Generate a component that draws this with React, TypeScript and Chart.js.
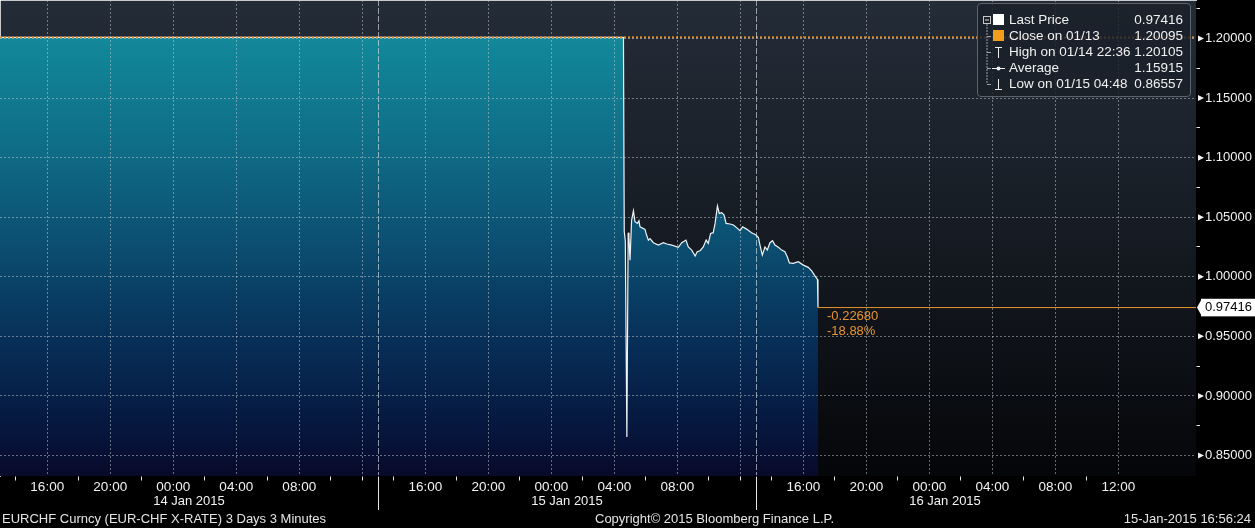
import React, { useEffect, useRef } from "react";
import { Chart, registerables } from "chart.js";

Chart.register(...registerables);

// ---------------- DATA ----------------
const sessionStart = "01/13 13:00";
const axisEnd = "01/16 16:56";
const dayBoundaries = ["01/14 13:00", "01/15 13:00"];
const dayCenters = ["01/14 01:00", "01/15 01:00", "01/16 01:00"];
const dayLabels = ["14 Jan 2015", "15 Jan 2015", "16 Jan 2015"];
const hourLabels = ["16:00", "20:00", "00:00", "04:00", "08:00", "12:00"];

const preTimes = ["01/13 13:00", "01/14 03:00", "01/14 22:36", "01/15 04:33"];
const preValues = [1.201, 1.201, 1.20105, 1.201];

const crashDay = "01/15";
const crashTimes = [
  "04:35", "04:38", "04:42", "04:48", "04:53", "04:56", "05:00", "05:06", "05:13", "05:19",
  "05:28", "05:34", "05:38", "05:57", "06:03", "06:10", "06:16", "06:29", "06:48", "07:07",
  "07:20", "07:39", "08:04", "08:17", "08:33", "08:42", "08:55", "09:08", "09:16", "09:27",
  "09:39", "09:50", "09:58", "10:07", "10:17", "10:24", "10:33", "10:40", "10:49", "10:58",
  "11:06", "11:21", "11:34", "11:49", "11:59", "12:09", "12:24", "12:43", "13:00", "13:09",
  "13:15", "13:24", "13:34", "13:43", "13:53", "14:03", "14:12", "14:25", "14:38", "14:50",
  "14:59", "15:07", "15:22", "15:41", "16:00", "16:19", "16:32", "16:45", "16:54", "16:56",
];
const crashValues = [
  1.201, 1.038, 1.03, 0.86557, 1.037, 1.033, 1.014, 1.0476, 1.0554, 1.0462,
  1.0448, 1.047, 1.042, 1.0398, 1.035, 1.0308, 1.032, 1.0286, 1.0266, 1.0286,
  1.0275, 1.0266, 1.0247, 1.0286, 1.0308, 1.025, 1.0224, 1.0174, 1.021, 1.0219,
  1.025, 1.0308, 1.028, 1.0364, 1.037, 1.0448, 1.0594, 1.0532, 1.0538, 1.052,
  1.0448, 1.0443, 1.0435, 1.0406, 1.0387, 1.042, 1.04, 1.037, 1.035, 1.033,
  1.0266, 1.0182, 1.025, 1.0225, 1.0286, 1.0303, 1.0266, 1.0247, 1.0224, 1.021,
  1.0168, 1.0117, 1.0112, 1.0126, 1.0098, 1.0079, 1.005, 1.0006, 0.9978, 0.97416,
];

const closePrice = 1.20095;
const lastPrice = 0.97416;
const changeLabels = ["-0.22680", "-18.88%"];

const yMinValue = 0.8328;
const yMaxValue = 1.2323;
const yMinorStep = 0.025;
const yMajorStep = 0.05;

const legendLabels = ["Last Price", "Close on 01/13", "High on 01/14 22:36", "Average", "Low on 01/15 04:48"];
const legendValues = ["0.97416", "1.20095", "1.20105", "1.15915", "0.86557"];

const footerLeft = "EURCHF Curncy (EUR-CHF X-RATE) 3 Days 3 Minutes";
const footerCenter = "Copyright\u00A9 2015 Bloomberg Finance L.P.";
const footerRight = "15-Jan-2015 16:56:24";

// ---------------- HELPERS ----------------
const FONT = '"Liberation Sans", Arial, sans-serif';
const startParts = sessionStart.split(" ");
const startDay = Number(startParts[0].split("/")[1]);
const startHour = Number(startParts[1].split(":")[0]);

function toHours(s: string): number {
  const [md, hm] = s.split(" ");
  const d = Number(md.split("/")[1]);
  const [h, m] = hm.split(":").map(Number);
  return (d - startDay) * 24 + h + m / 60 - startHour;
}

const xMax = toHours(axisEnd);
const lastTimeH = toHours(crashDay + " " + crashTimes[crashTimes.length - 1]);

const pricePoints = [
  ...preTimes.map((t, i) => ({ x: toHours(t), y: preValues[i] })),
  ...crashTimes.map((t, i) => ({ x: toHours(crashDay + " " + t), y: crashValues[i] })),
];

type XTick = { value: number; kind: string; label: string };
const boundaryHours = dayBoundaries.map(toHours);
const xTicks: XTick[] = [];
for (let k = 1; k < 72; k += 2) {
  const clock = (startHour + k) % 24;
  const text = String(clock).padStart(2, "0") + ":00";
  if (clock % 4 === 0) {
    const near = boundaryHours.some((b) => b - k > 0 && b - k < 1.5);
    xTicks.push({ value: k, kind: near ? "gridTick" : "major", label: near ? "" : hourLabels.includes(text) ? text : "" });
  } else {
    xTicks.push({ value: k, kind: "minor", label: "" });
  }
}
boundaryHours.forEach((b) => xTicks.push({ value: b, kind: "sep", label: "" }));
xTicks.sort((a, b) => a.value - b.value);
const xKind = (v: number) => xTicks.find((t) => Math.abs(t.value - v) < 1e-6)?.kind ?? "";
const xLabel = (v: number) => xTicks.find((t) => Math.abs(t.value - v) < 1e-6)?.label ?? "";

type DTick = { value: number; label: string; sep: boolean };
const dayTicks: DTick[] = [
  ...dayCenters.map((c, i) => ({ value: Math.round(toHours(c) / 12) * 12, label: dayLabels[i], sep: false })),
  ...boundaryHours.map((b) => ({ value: b, label: "", sep: true })),
].sort((a, b) => a.value - b.value);

const yTickValues: number[] = [];
for (let k = Math.ceil(yMinValue / yMinorStep); k * yMinorStep <= yMaxValue + 1e-9; k++) {
  const v = Math.round(k * yMinorStep * 1e6) / 1e6;
  if (Math.abs(v - lastPrice) < 0.004) continue;
  yTickValues.push(v);
}
yTickValues.push(lastPrice);
yTickValues.sort((a, b) => a - b);
const isLast = (v: any) => typeof v === "number" && Math.abs(v - lastPrice) < 1e-9;
const isMajorY = (v: any) =>
  typeof v === "number" && !isLast(v) && Math.abs(v / yMajorStep - Math.round(v / yMajorStep)) < 1e-6;

const GRID = "rgba(200,206,214,0.5)";
const SEP = "rgba(225,230,236,0.62)";
const ORANGE = "#e8952f";
const CLEAR = "rgba(0,0,0,0)";

// ---------------- PLUGINS ----------------
const plotBackground = {
  id: "plotBackground",
  beforeDraw(chart: any) {
    const { ctx, chartArea: a } = chart;
    ctx.save();
    ctx.fillStyle = "#000";
    ctx.fillRect(0, 0, chart.width, chart.height);
    const g = ctx.createLinearGradient(0, a.top, 0, a.bottom);
    g.addColorStop(0, "rgb(36,44,56)");
    g.addColorStop(0.45, "rgb(23,29,37)");
    g.addColorStop(1, "rgb(5,6,9)");
    ctx.fillStyle = g;
    ctx.fillRect(a.left, a.top, a.right - a.left, a.bottom - a.top);
    ctx.restore();
  },
};

const axisMarkers = {
  id: "axisMarkers",
  afterDraw(chart: any) {
    const { ctx } = chart;
    const ys = chart.scales.y;
    const xs = chart.scales.x;
    const r = ys.left;
    ctx.save();
    ctx.fillStyle = "#f2f2f2";
    ys.ticks.forEach((t: any) => {
      if (!isMajorY(t.value)) return;
      const py = ys.getPixelForValue(t.value);
      ctx.beginPath();
      ctx.moveTo(r + 2, py - 3);
      ctx.lineTo(r + 8, py);
      ctx.lineTo(r + 2, py + 3);
      ctx.closePath();
      ctx.fill();
    });
    const py = ys.getPixelForValue(lastPrice);
    ctx.fillStyle = "#ffffff";
    ctx.beginPath();
    ctx.moveTo(r + 1, py);
    ctx.lineTo(r + 6, py - 9);
    ctx.lineTo(r + 6, py + 9);
    ctx.closePath();
    ctx.fill();
    const lx = xs.getPixelForValue(lastTimeH);
    ctx.fillStyle = ORANGE;
    ctx.font = "13px " + FONT;
    ctx.textAlign = "left";
    ctx.textBaseline = "middle";
    ctx.fillText(changeLabels[0], lx + 9, py + 9);
    ctx.fillText(changeLabels[1], lx + 9, py + 24);
    ctx.restore();
  },
};

// ---------------- COMPONENTS ----------------
function Legend() {
  const rows = [17, 33, 49, 65, 81];
  return (
    <div
      style={{
        position: "absolute",
        left: 977,
        top: 3,
        width: 214,
        height: 94,
        background: "rgba(26,32,41,0.84)",
        border: "1px solid #5d636b",
        borderRadius: 4,
        boxSizing: "border-box",
        fontFamily: FONT,
        fontSize: 13.5,
        color: "#f0f0f0",
      }}
    >
      <svg width={32} height={94} style={{ position: "absolute", left: -1, top: -1 }}>
        <rect x={6.5} y={13.5} width={7} height={7} fill="none" stroke="#c8c8c8" strokeWidth={1} />
        <line x1={8} y1={17} x2={12} y2={17} stroke="#e0e0e0" strokeWidth={1} />
        <line x1={10} y1={21} x2={10} y2={81} stroke="#9aa0a8" strokeWidth={1} strokeDasharray="2,1" />
        {rows.slice(1).map((r) => (
          <line key={r} x1={10} y1={r + 0.5} x2={14} y2={r + 0.5} stroke="#9aa0a8" strokeWidth={1} />
        ))}
        <rect x={16} y={11} width={11} height={11} fill="#ffffff" />
        <rect x={16} y={27} width={11} height={11} fill="#f29d1c" />
        <line x1={18} y1={44.5} x2={25} y2={44.5} stroke="#eee" strokeWidth={1} />
        <line x1={21.5} y1={44} x2={21.5} y2={55} stroke="#eee" strokeWidth={1} />
        <line x1={15} y1={65.5} x2={28} y2={65.5} stroke="#eee" strokeWidth={1} />
        <circle cx={21.5} cy={65.5} r={2} fill="#eee" />
        <line x1={21.5} y1={76} x2={21.5} y2={86} stroke="#eee" strokeWidth={1} />
        <line x1={18} y1={86.5} x2={25} y2={86.5} stroke="#eee" strokeWidth={1} />
      </svg>
      {legendLabels.map((l, i) => (
        <div
          key={l}
          style={{
            position: "absolute",
            left: 31,
            right: 7,
            top: rows[i] - 9,
            height: 16,
            lineHeight: "16px",
            display: "flex",
            justifyContent: "space-between",
            whiteSpace: "nowrap",
          }}
        >
          <span>{l}</span>
          <span>{legendValues[i]}</span>
        </div>
      ))}
    </div>
  );
}

export default function App() {
  const ref = useRef<HTMLCanvasElement>(null);

  useEffect(() => {
    if (!ref.current) return;
    const chart = new Chart(ref.current, {
      type: "line",
      data: {
        datasets: [
          {
            label: "Close",
            data: [
              { x: toHours(sessionStart), y: closePrice },
              { x: xMax, y: closePrice },
            ],
            borderColor: "#e08a26",
            borderWidth: 2,
            borderDash: [2, 2],
            pointRadius: 0,
            fill: false,
            order: 0,
          },
          {
            label: "Last",
            data: [
              { x: lastTimeH, y: lastPrice },
              { x: xMax, y: lastPrice },
            ],
            borderColor: ORANGE,
            borderWidth: 1,
            pointRadius: 0,
            fill: false,
            order: 1,
          },
          {
            label: "EURCHF",
            data: pricePoints,
            borderColor: "#eef3f6",
            borderWidth: 1.2,
            pointRadius: 0,
            tension: 0,
            fill: "start",
            order: 2,
            backgroundColor: (c: any) => {
              const a = c.chart.chartArea;
              if (!a) return CLEAR;
              const g = c.chart.ctx.createLinearGradient(0, a.top, 0, a.bottom);
              g.addColorStop(0, "rgb(19,146,160)");
              g.addColorStop(0.3, "rgb(15,110,136)");
              g.addColorStop(0.52, "rgb(11,77,112)");
              g.addColorStop(0.73, "rgb(7,45,86)");
              g.addColorStop(0.92, "rgb(6,20,58)");
              g.addColorStop(1, "rgb(9,10,42)");
              return g;
            },
          },
        ],
      },
      options: {
        animation: false,
        responsive: false,
        devicePixelRatio: 1,
        events: [],
        layout: { padding: { left: 0, right: 0, top: 0, bottom: 16 } },
        plugins: { legend: { display: false }, tooltip: { enabled: false } },
        scales: {
          x: {
            type: "linear",
            position: "bottom",
            weight: 0,
            min: 0,
            max: xMax,
            bounds: "data",
            afterBuildTicks: (s: any) => {
              s.ticks = xTicks.map((t) => ({ value: t.value }));
            },
            afterFit: (s: any) => {
              s.height = 18;
              s.paddingLeft = 0;
              s.paddingRight = 0;
            },
            grid: {
              z: 1,
              lineWidth: 1,
              color: (c: any) => {
                const k = c.tick ? xKind(c.tick.value) : "";
                return k === "sep" ? SEP : k === "major" || k === "gridTick" ? GRID : CLEAR;
              },
              drawTicks: true,
              tickLength: 18,
              tickWidth: 1,
              tickColor: (c: any) => {
                const k = c.tick ? xKind(c.tick.value) : "";
                return k === "sep" || k === "minor" || k === "gridTick" ? "#e6e6e6" : CLEAR;
              },
              tickBorderDash: (c: any) => {
                const k = c.tick ? xKind(c.tick.value) : "";
                return k === "sep" ? [] : [4, 60];
              },
            },
            border: {
              display: true,
              color: "#ffffff",
              width: 1.5,
              dash: (c: any) => {
                if (!c || c.type !== "tick") return [];
                return xKind(c.tick.value) === "sep" ? [6, 2] : [2, 2];
              },
            },
            ticks: {
              autoSkip: false,
              maxRotation: 0,
              minRotation: 0,
              padding: -15,
              color: "#f2f2f2",
              font: { family: FONT, size: 13.5 },
              callback: (v: any) => xLabel(Number(v)),
            },
          },
          x2: {
            type: "linear",
            axis: "x",
            position: "bottom",
            weight: 1,
            min: 0,
            max: xMax,
            bounds: "data",
            afterBuildTicks: (s: any) => {
              s.ticks = dayTicks.map((t) => ({ value: t.value }));
            },
            afterFit: (s: any) => {
              s.height = 18;
              s.paddingLeft = 0;
              s.paddingRight = 0;
            },
            grid: {
              drawOnChartArea: false,
              drawTicks: true,
              tickLength: 16,
              tickWidth: 1,
              tickColor: (c: any) => {
                const t = c.tick ? dayTicks.find((d) => Math.abs(d.value - c.tick.value) < 1e-6) : null;
                return t && t.sep ? "#e6e6e6" : CLEAR;
              },
            },
            border: { display: false },
            ticks: {
              autoSkip: false,
              maxRotation: 0,
              minRotation: 0,
              padding: -16,
              color: "#f2f2f2",
              font: { family: FONT, size: 13 },
              callback: (v: any) => {
                const t = dayTicks.find((d) => Math.abs(d.value - Number(v)) < 1e-6);
                return t ? t.label : "";
              },
            },
          },
          y: {
            type: "linear",
            position: "right",
            min: yMinValue,
            max: yMaxValue,
            bounds: "data",
            afterBuildTicks: (s: any) => {
              s.ticks = yTickValues.map((v) => ({ value: v }));
            },
            afterFit: (s: any) => {
              s.width = 59;
              s.paddingTop = 0;
              s.paddingBottom = 0;
            },
            grid: {
              z: 1,
              lineWidth: 1,
              color: (c: any) => (c.tick && isMajorY(c.tick.value) ? GRID : CLEAR),
              drawTicks: true,
              tickLength: 4,
              tickWidth: 1,
              tickColor: (c: any) =>
                c.tick && !isMajorY(c.tick.value) && !isLast(c.tick.value) ? "#e6e6e6" : CLEAR,
            },
            border: {
              display: true,
              color: "#ffffff",
              width: 1.5,
              dash: (c: any) => (c && c.type === "tick" ? [2, 2] : []),
            },
            ticks: {
              autoSkip: false,
              padding: 5,
              font: { family: FONT, size: 13 },
              color: (c: any) => (c.tick && isLast(c.tick.value) ? "#000000" : "#f2f2f2"),
              showLabelBackdrop: (c: any) => !!(c.tick && isLast(c.tick.value)),
              backdropColor: "#ffffff",
              backdropPadding: { left: 4, right: 3, top: 1, bottom: 1 },
              callback: (v: any) => {
                const n = Number(v);
                return isMajorY(n) || isLast(n) ? n.toFixed(5) : "";
              },
            },
          },
        },
      } as any,
      plugins: [plotBackground, axisMarkers],
    });
    return () => chart.destroy();
  }, []);

  return (
    <div
      style={{
        position: "fixed",
        left: 0,
        top: 0,
        width: 1255,
        height: 528,
        background: "#000",
        overflow: "hidden",
        fontFamily: FONT,
      }}
    >
      <canvas ref={ref} width={1255} height={528} style={{ display: "block", width: 1255, height: 528 }} />
      <Legend />
      <div style={{ position: "absolute", left: 2, top: 511, fontSize: 13, lineHeight: "16px", color: "#e4e4e4", whiteSpace: "nowrap" }}>
        {footerLeft}
      </div>
      <div style={{ position: "absolute", left: 595, top: 511, fontSize: 13, lineHeight: "16px", color: "#e4e4e4", whiteSpace: "nowrap" }}>
        {footerCenter}
      </div>
      <div style={{ position: "absolute", right: 4, top: 511, fontSize: 13, lineHeight: "16px", color: "#e4e4e4", whiteSpace: "nowrap" }}>
        {footerRight}
      </div>
    </div>
  );
}
